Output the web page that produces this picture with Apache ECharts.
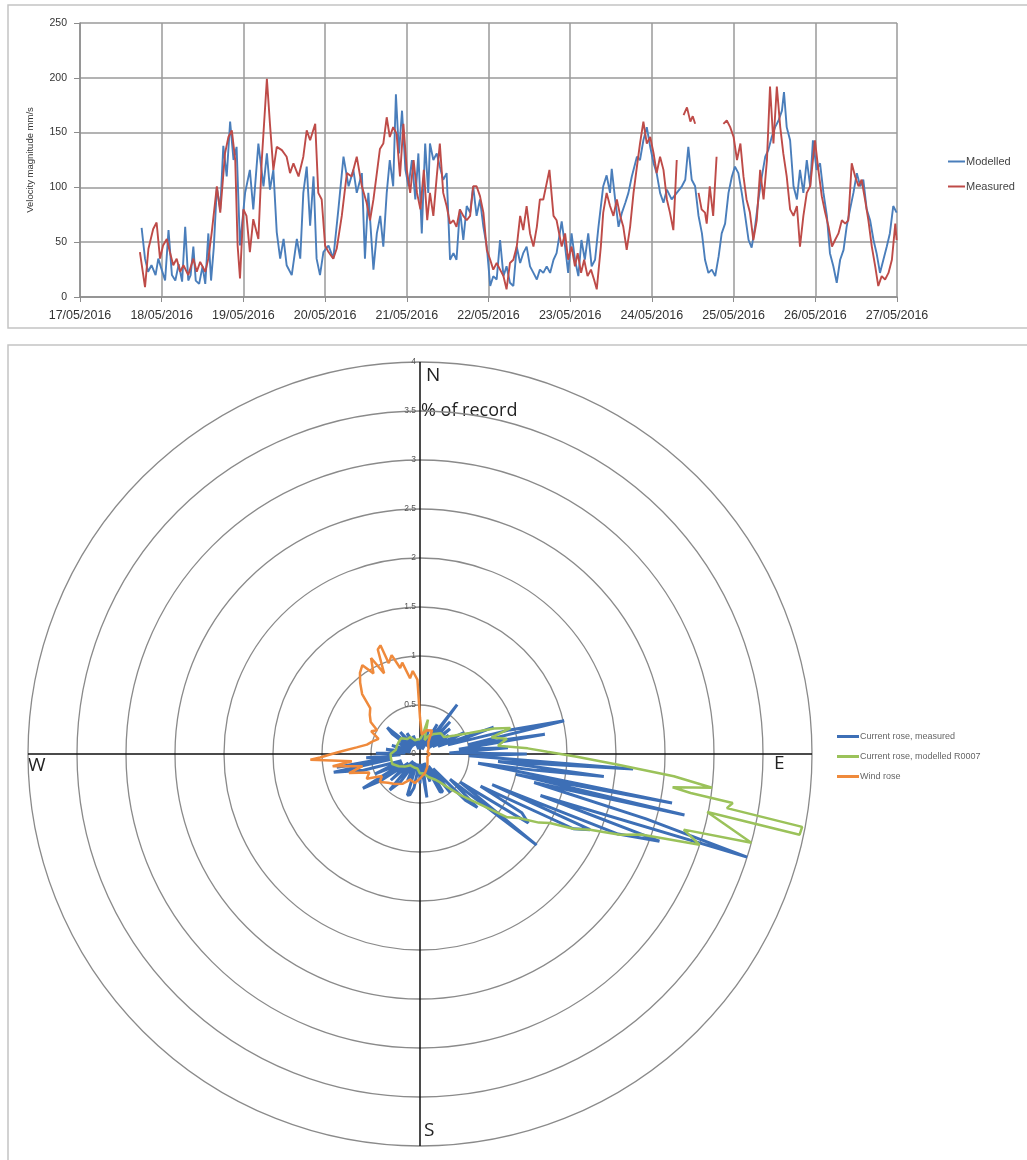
<!DOCTYPE html>
<html><head><meta charset="utf-8">
<script src="https://cdn.jsdelivr.net/npm/echarts@6/dist/echarts.min.js"></script>
<style>html,body{margin:0;padding:0;background:#fff}#c{width:1027px;height:1160px}</style>
</head><body><div id="c"></div>
<script>
// ---------- time series (hours since 17/05/2016 00:00) ----------
const dateLabels = ['17/05/2016','18/05/2016','19/05/2016','20/05/2016','21/05/2016','22/05/2016','23/05/2016','24/05/2016','25/05/2016','26/05/2016','27/05/2016'];
const yTicks = [0, 50, 100, 150, 200, 250];

const modelledT = [18.1,19.1,20,21,22.2,23,24,25,26,27,28,29,30,30.9,31.8,32.5,33.3,34,35,36,36.8,37.7,38.5,39.3,40.2,41.2,42.1,43.1,44.1,45.1,46,47,48.5,49.9,50.9,52.4,53.9,54.9,55.8,56.8,57.8,58.8,59.8,60.7,62.2,63.7,64.7,65.6,66.6,67.6,68.6,69.5,70.5,71.5,73,74.4,75.9,77.4,78.9,80.3,81.3,82.8,83.7,84.7,86.2,87.2,88.2,89.1,90.1,91,92,92.8,93.7,94.6,95.6,96.5,97.5,98.5,99.4,100.4,101.4,102.3,102.8,103.8,104.8,105.7,106.7,107.7,108.7,109.7,110.6,111.6,112.6,113.6,114.6,115.5,116.5,117.5,118.5,119.5,120.5,121.4,122.4,123.4,124.4,125.3,126.3,127.3,128.3,129.3,130.2,131.2,132.2,133.2,134.2,135.1,136.1,137.1,138.1,139.1,140,141.5,142.5,143.4,144.4,145.4,146.4,147.3,148.3,149.3,150.3,151.3,152.3,153.7,154.7,155.7,156.2,157.2,158.2,159.2,160.2,161.1,162.1,163.6,164.5,165.5,166.5,167.5,168.5,169.4,170.4,171.4,172.4,173.8,175.3,176.8,177.8,178.7,179.7,180.7,181.7,182.7,183.6,184.6,185.6,186.6,187.6,188.5,189.5,190.5,191.5,192.4,193.4,194.4,195.4,196.4,197.3,198.3,199.3,200.3,201.3,202.2,203.2,204.2,205.2,206.2,206.8,207.6,208.6,209.6,210.6,211.5,212.5,213.5,214.5,215.3,216.4,217.4,218.4,219.4,220.3,221.3,222.3,223.3,224.3,225.2,226.2,227.2,228.2,229.2,230.1,231.1,232.1,233.1,234,235,236,237,237.9,238.9,239.9];
const modelledV = [63,35,23,29,20,35,25,15,61,20,15,30,14,64,15,20,46,15,12,28,12,58,15,45,100,80,138,110,160,125,137,47,95,116,80,140,101,131,98,116,59,35,53,29,20,53,35,95,119,65,110,35,20,41,47,35,80,128,101,116,95,113,35,95,25,58,74,46,95,125,101,185,131,170,116,101,125,89,131,58,140,95,140,125,131,119,107,113,34,40,34,80,52,83,77,101,74,89,64,46,10,19,16,52,19,28,13,10,46,31,40,46,28,22,16,25,22,28,22,34,40,69,46,22,58,34,19,52,34,58,28,34,64,101,111,95,117,89,64,77,86,95,110,128,125,143,155,137,122,113,95,86,98,89,95,101,107,137,107,101,74,58,34,22,25,19,37,58,67,95,110,119,113,95,74,52,45,64,89,110,128,134,146,155,161,170,187,155,143,101,89,116,95,125,101,143,116,122,95,74,40,28,13,34,43,64,80,95,113,101,107,80,70,52,40,22,34,46,58,83,77];

const measuredT = [17.6,19.1,20.1,21.5,22.5,23.5,24.4,25.5,26.4,27.4,28.4,29.4,30.4,31.8,33.3,34.3,35.3,36.8,37.7,38.7,40.2,41.2,42.6,43.6,44.6,45.6,46.3,47,48,48.9,49.9,50.9,52.4,53.4,54.9,55.8,56.8,57.8,59.3,60.7,61.7,62.7,64.2,65.6,66.6,67.6,69.1,70,71,72,73,74.4,75.4,76.9,78.4,79.8,81.3,82.8,84.2,85.2,86.2,87.2,88.1,89.1,90.1,91,92,93,94,95,96,97,98,99,100,101,102,102.8,103.8,104.8,105.7,106.7,107.7,108.7,109.7,110.6,111.6,112.6,113.6,114.6,115.5,116.5,117.5,118.5,119.5,120.5,121.4,122.4,123.4,124.4,125.3,126.3,127.3,128.3,129.3,130.2,131.2,132.2,133.2,134.2,135.1,136.1,137.9,139.1,140,141.5,142.5,143.4,144.4,145.4,146.2,147.2,148.1,149.1,150.1,151,151.8,153,153.7,154.7,155.7,156.7,157.7,158.7,159.6,160.6,161.6,162.6,163.6,164.5,165.5,166.5,167.5,168.5,169.4,170.4,171.4,172.4,173.3,174.3,175.3,176.3,177.3,178.3,179.3,180,180.7,181.2,181.7,182.6,183.6,184.1,185,186,187,187.8,189,190,191,192,193,194,194.9,195.8,196.8,197.8,198.8,199.8,200.8,201.8,202.7,203.7,204.7,205.7,206.6,207.6,208.6,209.6,210.6,211.5,212.5,213.5,214.5,215.9,216.9,217.9,218.9,219.9,220.9,221.8,222.8,223.8,224.8,225.7,226.7,227.7,228.7,229.6,230.6,231.6,232.6,233.6,234.5,235.5,236.5,237.5,238.5,239.5,239.9];
const measuredV = [41,9,44,62,68,35,47,53,41,29,35,23,29,20,35,23,32,23,35,59,101,77,131,146,152,125,47,17,80,74,41,71,53,125,199,158,116,137,134,128,113,122,110,128,152,143,158,95,89,47,41,35,44,74,113,110,128,101,86,70,89,113,135,140,164,146,155,149,110,158,116,95,125,95,80,116,70,95,74,110,140,95,83,67,70,64,80,74,70,74,101,101,92,77,43,34,25,31,25,19,7,31,34,46,74,61,83,58,46,64,89,89,116,74,70,46,58,34,46,28,40,22,34,19,25,16,7,46,77,95,83,74,89,74,64,43,64,95,119,140,160,140,146,131,113,128,116,89,77,61,125,null,166,173,160,165,158,null,95,80,77,67,101,74,128,null,158,161,155,146,125,140,110,89,77,52,70,116,89,125,192,140,192,155,131,110,80,74,83,46,74,95,101,143,116,92,77,64,46,52,58,70,67,70,122,110,101,107,89,70,46,28,10,19,16,22,34,67,52];

// ---------- roses (% of record by direction, degrees from north) ----------
const radiusTicks = [0, 0.5, 1, 1.5, 2, 2.5, 3, 3.5, 4];
const measuredRoseAngle = [0,5,10,15,20,25,30,33,37,40,43,46,50,53,57,60,64,67,70,72,75,77,79,81,83,86,88,90,92,94,95.5,97,98,99,101,102,103,104,106,107.5,109,110,112,113,114,116,118,120,122.5,125,128,130,133,135.5,138,142,145,149,152,155,160,165,171,175,180,185,190,194,197,200,205,210,215,220,223,228,232,236,239,242,246,250,254,258,259.5,261,263,266,268,271,274,278,282,287,292,297,302,306,309,312,318,322,328,333,340,345,350,355,360];
const measuredRoseValue = [0.15,0.1,0.2,0.05,0.25,0.05,0.35,0.1,0.63,0.1,0.45,0.15,0.4,0.1,0.35,0.15,0.5,0.2,0.8,0.3,0.95,1.51,0.5,1.29,0.4,0.9,0.3,1.09,0.5,2.18,0.8,1.89,1.2,0.6,2.62,1.0,2.77,1.2,2.4,3.5,1.3,2.6,2.18,0.8,1.9,1.74,0.7,1.2,1.31,0.5,1.51,0.4,0.8,0.66,0.2,0.5,0.15,0.45,0.44,0.1,0.3,0.1,0.45,0.1,0.3,0.1,0.35,0.43,0.44,0.1,0.3,0.1,0.35,0.48,0.1,0.4,0.15,0.5,0.68,0.2,0.5,0.2,0.6,0.9,0.3,0.86,0.3,0.55,0.2,0.45,0.15,0.35,0.1,0.3,0.1,0.25,0.1,0.35,0.43,0.1,0.3,0.1,0.25,0.1,0.2,0.05,0.15,0.05,0.15];
const modelledRoseAngle = [0,8,13,18,25,35,45,55,62,67,71,74,77,80,84,87,89,91,93,95,96.6,97.5,98.2,98.9,100,100.8,102,101.4,105,106,108,110,112,114,116,118,120,123,126,130,135,140,145,150,160,170,180,190,200,210,220,230,240,250,260,270,280,290,300,310,320,330,340,350,360];
const modelledRoseValue = [0.15,0.2,0.36,0.15,0.2,0.25,0.3,0.3,0.4,0.55,0.8,0.96,0.75,0.9,0.8,1.1,1.3,1.6,2.0,2.6,3.0,2.6,2.79,3.23,3.18,3.97,3.96,2.99,3.5,2.8,3.0,2.4,2.2,1.9,1.74,1.5,1.4,1.2,1.1,0.8,0.6,0.45,0.35,0.3,0.25,0.2,0.2,0.15,0.15,0.15,0.15,0.2,0.25,0.3,0.3,0.3,0.25,0.25,0.25,0.25,0.2,0.2,0.15,0.15,0.15];
const windRoseAngle = [0,5,15,27,35,45,60,75,90,110,130,150,165,180,190,201,210,220,228,235,240,245,250,255,258,262,264,267,268,270,272,276,280,285,290,295,299,303,308,312.6,316,320,323.5,327,330,333,336,338,340,341,344,347,349,352.5,355,358,360];
const windRoseValue = [0.37,0.2,0.25,0.27,0.15,0.12,0.1,0.08,0.1,0.08,0.1,0.15,0.2,0.25,0.3,0.28,0.35,0.4,0.44,0.5,0.45,0.6,0.55,0.75,0.6,0.9,0.7,1.12,1.02,0.9,0.8,0.65,0.55,0.5,0.45,0.55,0.5,0.6,0.65,0.69,0.85,0.95,1.03,1.08,0.95,1.1,0.9,1.15,1.18,0.98,1.05,0.9,0.95,0.78,0.85,0.76,0.37];

const zipXY = (xs, ys) => xs.map((x, i) => [x, ys[i]]);
const zipPolar = (angles, vals) => angles.map((a, i) => [vals[i], a]);

const chart = echarts.init(document.getElementById('c'), null, {renderer: 'canvas'});
const FONT = 'Liberation Sans, Arial, sans-serif';

chart.setOption({
  animation: false,
  backgroundColor: '#fff',
  textStyle: {fontFamily: FONT},
  graphic: [
    {type: 'rect', shape: {x: 8, y: 5, width: 1040, height: 323}, style: {fill: 'none', stroke: '#c4c4c4', lineWidth: 1.5}},
    {type: 'rect', shape: {x: 8, y: 345, width: 1040, height: 840}, style: {fill: 'none', stroke: '#c4c4c4', lineWidth: 1.5}},
    {type: 'text', left: 426, top: 366, style: {text: 'N', font: '19px "Open Sans", sans-serif', fill: '#222'}},
    {type: 'text', left: 421, top: 402, style: {text: '% of record', font: '18px "Open Sans", sans-serif', fill: '#222'}},
    {type: 'text', left: 774, top: 754, style: {text: 'E', font: '19px "Open Sans", sans-serif', fill: '#222'}},
    {type: 'text', left: 28, top: 756, style: {text: 'W', font: '19px "Open Sans", sans-serif', fill: '#222'}},
    {type: 'text', left: 424, top: 1121, style: {text: 'S', font: '19px "Open Sans", sans-serif', fill: '#222'}}
  ],
  legend: [
    {
      data: ['Modelled', 'Measured'], orient: 'vertical', left: 943, top: 151,
      itemWidth: 17, itemHeight: 2, itemGap: 14, icon: 'rect',
      textStyle: {fontSize: 11, color: '#444', fontFamily: FONT, padding: [0, 0, 0, -4]}
    },
    {
      data: ['Current rose, measured', 'Current rose, modelled R0007', 'Wind rose'], orient: 'vertical', left: 832, top: 727,
      itemWidth: 22, itemHeight: 3, itemGap: 11, icon: 'rect',
      textStyle: {fontSize: 9, color: '#666', fontFamily: FONT, padding: [0, 0, 0, -4]}
    }
  ],
  grid: {left: 80, right: 130, top: 23, height: 274},
  xAxis: {
    type: 'value', min: 0, max: 240, interval: 24,
    axisLine: {show: true, lineStyle: {color: '#8c8c8c', width: 1.5}},
    axisTick: {show: true, length: 5, lineStyle: {color: '#8c8c8c'}},
    splitLine: {show: true, lineStyle: {color: '#9a9a9a', width: 1.5}},
    axisLabel: {formatter: v => dateLabels[Math.round(v / 24)], fontSize: 12.5, color: '#333', margin: 12, showMinLabel: true, showMaxLabel: true}
  },
  yAxis: {
    type: 'value', min: 0, max: 250, interval: 50,
    name: 'Velocity magnitude mm/s', nameLocation: 'middle', nameGap: 45, nameRotate: 90,
    nameTextStyle: {fontSize: 9.5, color: '#333'},
    axisLine: {show: true, lineStyle: {color: '#8c8c8c', width: 1.5}},
    axisTick: {show: true, length: 6, lineStyle: {color: '#8c8c8c'}},
    splitLine: {show: true, lineStyle: {color: '#9a9a9a', width: 1.5}},
    axisLabel: {fontSize: 10.5, color: '#333', margin: 13, formatter: v => (yTicks.indexOf(v) >= 0 ? String(v) : '')}
  },
  polar: {center: [420, 754], radius: 392},
  angleAxis: {
    type: 'value', min: 0, max: 360, interval: 90, startAngle: 90, clockwise: true,
    axisLine: {show: false}, axisTick: {show: false}, axisLabel: {show: false},
    splitLine: {show: true, lineStyle: {color: '#111', width: 1.5}}
  },
  radiusAxis: {
    type: 'value', min: 0, max: 4, interval: 0.5,
    axisLine: {show: false}, axisTick: {show: false},
    axisLabel: {show: true, fontSize: 8.5, color: '#555', margin: 4, formatter: v => (radiusTicks.indexOf(v) >= 0 ? String(v) : '')},
    splitLine: {show: true, lineStyle: {color: '#8a8a8a', width: 1.3}}
  },
  series: [
    {name: 'Modelled', type: 'line', xAxisIndex: 0, yAxisIndex: 0, showSymbol: false, data: zipXY(modelledT, modelledV),
     lineStyle: {color: '#4a7ebb', width: 1.9}, itemStyle: {color: '#4a7ebb'}, z: 3},
    {name: 'Measured', type: 'line', xAxisIndex: 0, yAxisIndex: 0, showSymbol: false, data: zipXY(measuredT, measuredV),
     lineStyle: {color: '#be4b48', width: 1.9}, itemStyle: {color: '#be4b48'}, z: 4},
    {name: 'Current rose, measured', type: 'line', coordinateSystem: 'polar', showSymbol: false, data: zipPolar(measuredRoseAngle, measuredRoseValue),
     lineStyle: {color: '#3d6fb6', width: 3}, itemStyle: {color: '#3d6fb6'}, z: 3},
    {name: 'Current rose, modelled R0007', type: 'line', coordinateSystem: 'polar', showSymbol: false, data: zipPolar(modelledRoseAngle, modelledRoseValue),
     lineStyle: {color: '#9bc25a', width: 2.5}, itemStyle: {color: '#9bc25a'}, z: 4},
    {name: 'Wind rose', type: 'line', coordinateSystem: 'polar', showSymbol: false, data: zipPolar(windRoseAngle, windRoseValue),
     lineStyle: {color: '#ef8a3c', width: 2.5}, itemStyle: {color: '#ef8a3c'}, z: 5}
  ]
});
</script>
</body></html>
